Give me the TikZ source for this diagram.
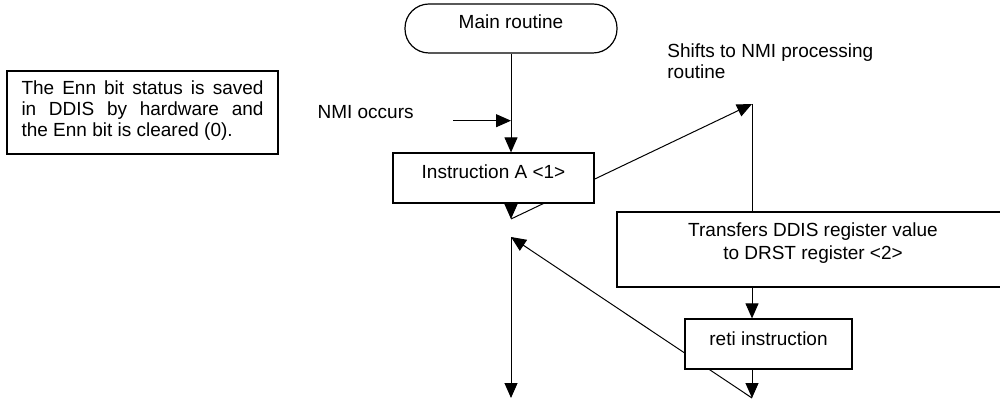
\documentclass[tikz,border=0pt]{standalone}
\usepackage{fontspec}
\setmainfont{Liberation Sans}
\usetikzlibrary{arrows.meta}

\begin{document}
\begin{tikzpicture}[x=0.5pt,y=-0.5pt,
  every node/.style={font=\fontsize{9.5}{11.5}\selectfont},
  box/.style={draw=black, line width=0.6pt, fill=white, inner sep=0pt,
    anchor=base},
  onebox/.style={box, text height=13pt, text depth=12pt},
  plain/.style={inner sep=0pt},
  flow/.style={line width=0.5pt, draw=black},
  arr/.style={flow, -{Triangle[length=7.5pt,width=6.5pt]}}
]
\clip (0,0) rectangle (1000,400);

% free ends of the connectors
\coordinate (nmiStart) at (453,120.7);
\coordinate (nmiHit)   at (511,120.7);
\coordinate (split)    at (511,219);
\coordinate (vecTop)   at (752,104);
\coordinate (resume)   at (511,237);
\coordinate (endMain)  at (511,398);
\coordinate (endIsr)   at (752,398);

% diagonal transfers pass behind the boxes
\draw[arr] (split) -- (vecTop);
\draw[arr] (endIsr) -- (resume);

% boxes
\node[box, rounded corners=12pt, text height=12.5pt, text depth=12pt,
      minimum width=106pt] (main) at (511,29) {Main routine};
\node[onebox, minimum width=100.5pt] (instA) at (493.5,179) {Instruction A <1>};
% two-line box: base is the baseline of its last line
\node[box, align=center, text height=24pt, text depth=13.5pt,
      minimum width=196pt] (transfer) at (813,260)
      {Transfers DDIS register value\\to DRST register <2>};
\node[onebox, minimum width=83.5pt] (reti) at (768.5,345) {reti instruction};

\node[box, font=\fontsize{9.5}{10.5}\selectfont, text width=121pt, align=justify,
      inner xsep=7.25pt, text height=12pt, text depth=29.5pt] (note) at (142.5,95)
      {The Enn bit status is saved\linebreak in DDIS by hardware and\linebreak the Enn bit is cleared (0).};

% labels
\node[plain, anchor=base east] (nmiLabel) at (414,119) {NMI occurs};
\node[plain, anchor=base west, align=left, font=\fontsize{9.5}{10.5}\selectfont]
      (shiftLabel) at (667,79) {Shifts to NMI processing\\routine};

% connectors
\draw[arr] (main.south) -- (main.south |- instA.north);
\draw[arr] (nmiStart) -- (nmiHit);
\draw[arr] (instA.south -| split) -- (split);
\draw[flow] (vecTop) -- (vecTop |- transfer.north);
\draw[arr] (transfer.south -| vecTop) -- (reti.north -| vecTop);
\draw[arr] (reti.south -| endIsr) -- (endIsr);
\draw[arr] (resume) -- (endMain);
\end{tikzpicture}
\end{document}
